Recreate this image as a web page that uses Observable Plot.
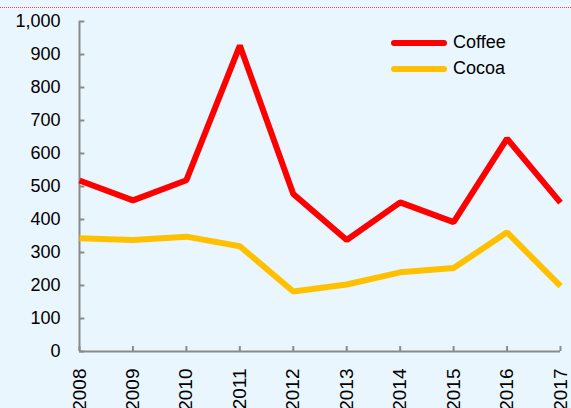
<!DOCTYPE html>
<html>
<head>
<meta charset="utf-8">
<script src="https://cdn.jsdelivr.net/npm/d3@7"></script>
<script src="https://cdn.jsdelivr.net/npm/@observablehq/plot@0.6"></script>
<style>
  html, body { margin: 0; padding: 0; }
  #wrap { position: relative; width: 571px; height: 408px; background: #eaf6fe; overflow: hidden; font-family: "Liberation Sans", Arial, sans-serif; }
  #dots { position: absolute; left: 0; top: 7px; width: 571px; border-top: 1px dotted #e8403c; }
  .leg { position: absolute; left: 391px; font-size: 18px; color: #000; display: flex; align-items: center; }
  .leg span.sw { display: inline-block; width: 56px; height: 6px; border-radius: 3px; margin-right: 6px; }
  svg { position: absolute; left: 0; top: 0; }
</style>
</head>
<body>
<div id="wrap">
  <div id="dots"></div>
</div>
<script>
const years = [2008, 2009, 2010, 2011, 2012, 2013, 2014, 2015, 2016, 2017];
const coffee = [518, 458, 519, 927, 477, 338, 452, 392, 645, 451];
const cocoa = [343, 338, 348, 319, 182, 203, 240, 253, 361, 198];
const yTicks = [0, 100, 200, 300, 400, 500, 600, 700, 800, 900, 1000];
const seriesNames = ["Coffee", "Cocoa"];
const seriesColors = ["#ff0000", "#ffc000"];

const rows = [];
years.forEach((yr, i) => {
  rows.push({year: yr, value: coffee[i], series: "Coffee"});
  rows.push({year: yr, value: cocoa[i], series: "Cocoa"});
});

const axisColor = "#8a8a8a";
const chart = Plot.plot({
  width: 571,
  height: 408,
  marginLeft: 79,
  marginRight: 11,
  marginTop: 21,
  marginBottom: 57,
  style: {background: "transparent", fontFamily: "'Liberation Sans', Arial, sans-serif", color: "#000"},
  x: {domain: [2008, 2017]},
  y: {domain: [0, 1000]},
  color: {domain: seriesNames, range: seriesColors},
  marks: [
    Plot.axisY(yTicks, {tickSize: 0, tickPadding: 19, tickFormat: d3.format(","), fontSize: 18, label: null}),
    Plot.axisX(years, {tickSize: 0, tickRotate: -90, tickPadding: 17, tickFormat: d => String(d), fontSize: 19, label: null}),
    Plot.ruleX([2008], {stroke: axisColor, strokeWidth: 2}),
    Plot.ruleY([0], {stroke: axisColor, strokeWidth: 2}),
    Plot.ruleY(yTicks, {y: d => d, x1: 2008, x2: 2008.1, stroke: axisColor, strokeWidth: 2}),
    Plot.ruleX(years, {x: d => d, y1: 0, y2: 15, stroke: axisColor, strokeWidth: 2}),
    Plot.line(rows, {x: "year", y: "value", z: "series", stroke: "series", strokeWidth: 6, strokeLinejoin: "miter", strokeLinecap: "butt"})
  ]
});
const wrap = document.getElementById("wrap");
wrap.appendChild(chart);

seriesNames.forEach((name, i) => {
  const d = document.createElement("div");
  d.className = "leg";
  d.style.top = (i === 0 ? 32 : 58) + "px";
  d.innerHTML = `<span class="sw" style="background:${seriesColors[i]}"></span>${name}`;
  wrap.appendChild(d);
});
</script>
</body>
</html>
